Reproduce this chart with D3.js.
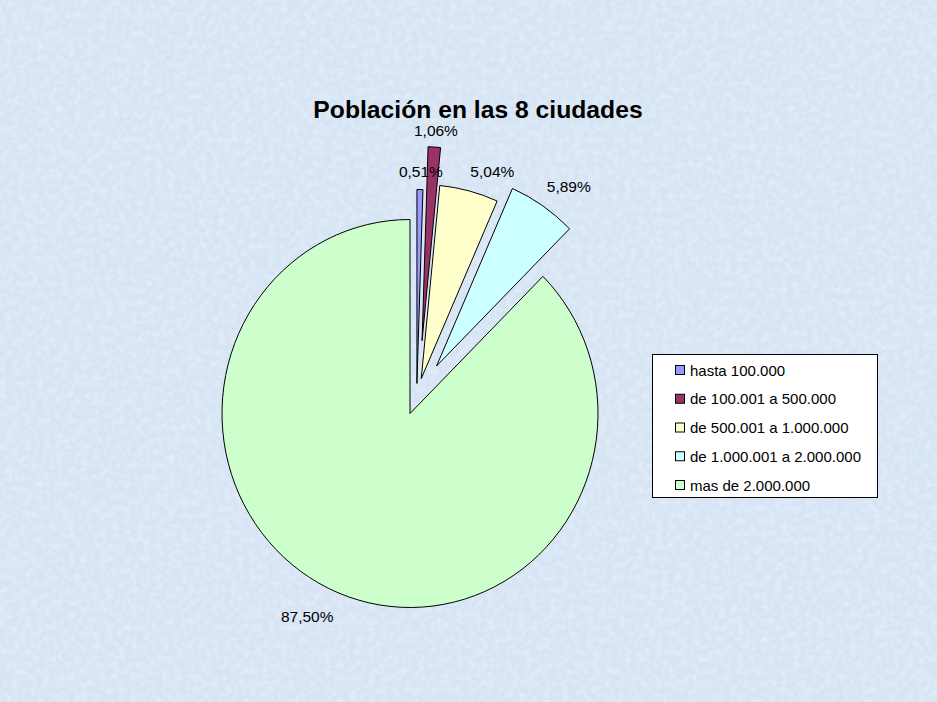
<!DOCTYPE html>
<html>
<head>
<meta charset="utf-8">
<script src="https://cdn.jsdelivr.net/npm/d3@7/dist/d3.min.js"></script>
<style>
  html, body { margin: 0; padding: 0; background: #dbe7f5; }
  svg { display: block; }
</style>
</head>
<body>
<svg id="chart" width="937" height="702"></svg>
<script>
// ---- data ----
const categories = ["hasta 100.000", "de 100.001 a 500.000", "de 500.001 a 1.000.000", "de 1.000.001 a 2.000.000", "mas de 2.000.000"];
const values = [0.51, 1.06, 5.04, 5.89, 87.50];
const colors = ["#9999FF", "#993366", "#FFFFCC", "#CCFFFF", "#CCFFCC"];
const title = "Población en las 8 ciudades";

// ---- style (explosion & label placement, in radius units / degrees) ----
const explodeDist = [0.159, 0.381, 0.19, 0.283, 0];
const explodeDir  = [13.4, 9.7, 18.4, 30, 0];
const labelRadius = [1.093, 1.085, 1.132, 1.16, 1.18];
const labelDir    = [1.1, 3.9, 19.5, 37.3, 207.6];

const W = 937, H = 702;
const cx = 410, cy = 413.5, rx = 188, ry = 194, R = 191;

const svg = d3.select("#chart");

// textured background
const defs = svg.append("defs");
const f = defs.append("filter").attr("id", "tex").attr("x", 0).attr("y", 0).attr("width", "100%").attr("height", "100%");
f.append("feTurbulence").attr("type", "fractalNoise").attr("baseFrequency", 0.16).attr("numOctaves", 3).attr("seed", 7).attr("result", "n");
f.append("feColorMatrix").attr("in", "n").attr("type", "matrix")
  .attr("values", "0 0 0 0 1  0 0 0 0 1  0 0 0 0 1  0 0 0 1.3 -0.5");
svg.append("rect").attr("width", W).attr("height", H).attr("fill", "#d6e4f4");
svg.append("rect").attr("width", W).attr("height", H).attr("filter", "url(#tex)").attr("opacity", 0.55);

// title
svg.append("text")
  .attr("x", 478).attr("y", 118)
  .attr("text-anchor", "middle")
  .attr("font-family", "Liberation Sans, Arial, sans-serif")
  .attr("font-weight", "bold")
  .attr("font-size", 24.7)
  .attr("fill", "#000")
  .text(title);

// pie
const pie = d3.pie().sort(null).value(d => d)(values);
const arc = d3.arc().innerRadius(0).outerRadius(R);
const rad = a => a * Math.PI / 180;

const g = svg.append("g")
  .attr("transform", `translate(${cx},${cy}) scale(${rx / R},${ry / R})`);

g.selectAll("path.slice")
  .data(pie)
  .join("path")
  .attr("class", "slice")
  .attr("transform", (d, i) => {
    const dx = Math.sin(rad(explodeDir[i])) * explodeDist[i] * R;
    const dy = -Math.cos(rad(explodeDir[i])) * explodeDist[i] * R;
    return `translate(${dx},${dy})`;
  })
  .attr("d", arc)
  .attr("fill", (d, i) => colors[i])
  .attr("stroke", "#000")
  .attr("stroke-width", 1)
  .attr("vector-effect", "non-scaling-stroke");

// labels
const fmt = v => d3.format(".2f")(v).replace(".", ",") + "%";
svg.selectAll("text.lbl")
  .data(pie)
  .join("text")
  .attr("class", "lbl")
  .attr("x", (d, i) => cx + (Math.sin(rad(explodeDir[i])) * explodeDist[i] + Math.sin(rad(labelDir[i])) * labelRadius[i]) * rx)
  .attr("y", (d, i) => cy - (Math.cos(rad(explodeDir[i])) * explodeDist[i] + Math.cos(rad(labelDir[i])) * labelRadius[i]) * ry)
  .attr("text-anchor", "middle")
  .attr("dominant-baseline", "central")
  .attr("font-family", "Liberation Sans, Arial, sans-serif")
  .attr("font-size", 15.5)
  .attr("fill", "#000")
  .text(d => fmt(d.data));

// legend
const lx = 652, ly = 354, lw = 225, lh = 143;
const lg = svg.append("g");
lg.append("rect").attr("x", lx + 0.5).attr("y", ly + 0.5).attr("width", lw).attr("height", lh)
  .attr("fill", "#fff").attr("stroke", "#000").attr("stroke-width", 1);
const rowY = d3.scalePoint().domain(categories).range([ly + 16, ly + 131]);
const items = lg.selectAll("g.item").data(categories).join("g").attr("class", "item")
  .attr("transform", d => `translate(0,${rowY(d)})`);
items.append("rect").attr("x", 675.5).attr("y", -4.5).attr("width", 9).attr("height", 9)
  .attr("fill", (d, i) => colors[i]).attr("stroke", "#000").attr("stroke-width", 1);
items.append("text").attr("x", 690).attr("y", 0)
  .attr("dominant-baseline", "central")
  .attr("font-family", "Liberation Sans, Arial, sans-serif")
  .attr("font-size", 15)
  .attr("fill", "#000")
  .text(d => d);
</script>
</body>
</html>
